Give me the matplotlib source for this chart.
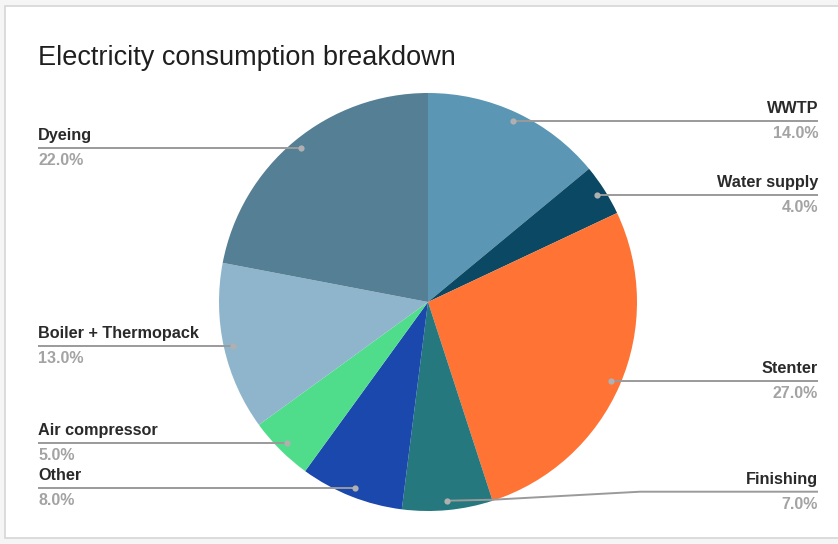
import matplotlib
matplotlib.use("Agg")
import matplotlib.pyplot as plt
from matplotlib.patches import Rectangle
import numpy as np

# Data
categories = ["WWTP", "Water supply", "Stenter", "Finishing", "Other",
              "Air compressor", "Boiler + Thermopack", "Dyeing"]
shares = [14.0, 4.0, 27.0, 7.0, 8.0, 5.0, 13.0, 22.0]
slice_colors = ["#5b96b4", "#0b4863", "#ff7435", "#24787e", "#1a48ad",
                "#50dd8b", "#8fb5cc", "#557f95"]
title = "Electricity consumption breakdown"

W, H = 838, 544
fig = plt.figure(figsize=(W / 100, H / 100), dpi=100)
ax = fig.add_axes([0, 0, 1, 1])


def Y(y_img):
    """Convert a top-down pixel row to the axes' bottom-up coordinate."""
    return H - y_img


# Card frame
fig.patch.set_facecolor("#f5f5f5")
ax.add_patch(Rectangle((5, Y(538)), W, 532, facecolor="white",
                       edgecolor="#d6d6d6", linewidth=1.2, zorder=0))

cx, cy, r = 428, Y(302), 209
wedges, _ = ax.pie(shares, colors=slice_colors, startangle=90,
                   counterclock=False, center=(cx, cy), radius=r,
                   frame=True, wedgeprops=dict(linewidth=0))

ax.set_xlim(0, W)
ax.set_ylim(0, H)
ax.set_aspect("equal")
ax.axis("off")

ax.text(38, Y(58), title, fontsize=19.5, family="Liberation Sans",
        color="#1f1f1f", ha="left", va="center")

line_color = "#9a9a9a"
name_color = "#2a2a2a"
pct_color = "#a3a3a3"
label_shift = {"Finishing": 9}  # lift this label above its anchor

for w, name, val in zip(wedges, categories, shares):
    mid = np.deg2rad((w.theta1 + w.theta2) / 2)
    dx = cx + 0.955 * r * np.cos(mid)
    dy = cy + 0.955 * r * np.sin(mid)
    ly = dy + label_shift.get(name, 0)
    if dx < cx:
        xs, ys = [38, dx], [ly, ly]
        tx, ha = 38, "left"
    else:
        if ly != dy:
            xs = [dx, dx + 46, 640, 818]
            ys = [dy, dy + 1, ly, ly]
        else:
            xs, ys = [dx, 818], [ly, ly]
        tx, ha = 818, "right"
    ax.plot(xs, ys, color=line_color, linewidth=1.4, zorder=3,
            solid_capstyle="butt")
    ax.plot([dx], [dy], marker="o", markersize=4.5, color="#b0b0b0",
            markeredgewidth=0, zorder=4)
    ax.text(tx, ly + 12.5, name, fontsize=11.7, fontweight="bold",
            family="Liberation Sans", color=name_color, ha=ha, va="center")
    ax.text(tx, ly - 12.5, f"{val:.1f}%", fontsize=11.5, fontweight="bold",
            family="Liberation Sans", color=pct_color, ha=ha, va="center")

fig.savefig("out.png", dpi=100, facecolor=fig.get_facecolor())
